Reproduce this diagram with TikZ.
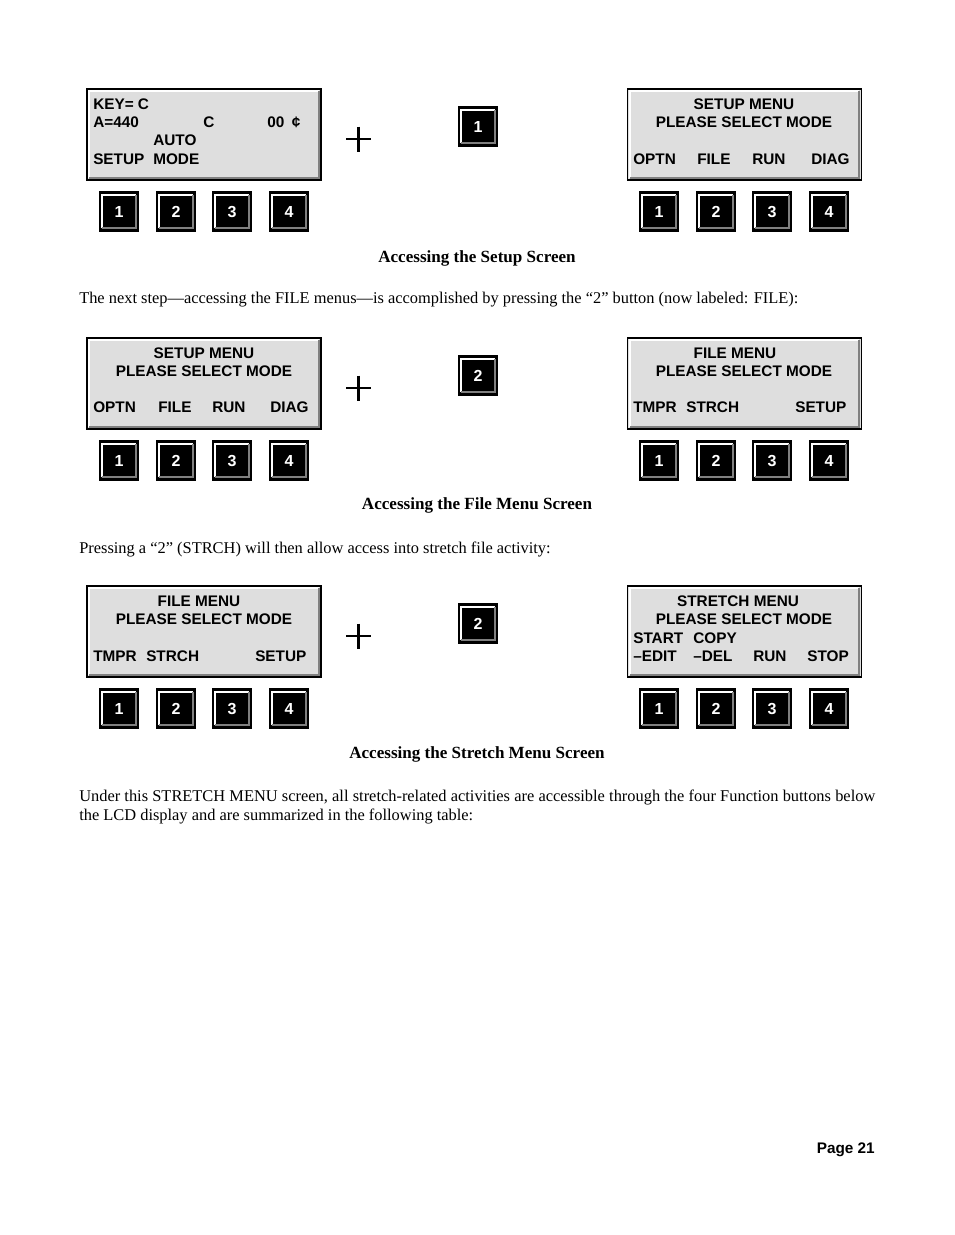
\documentclass[tikz,border=0pt]{standalone}
\usepackage{fontspec}
\setmainfont{Liberation Serif}
\newfontfamily\lcdfont{Liberation Sans}
\definecolor{lcdfill}{RGB}{222,222,222}
\definecolor{bevel}{RGB}{128,128,128}

\begin{document}
\begin{tikzpicture}[x=0.75pt, y=-0.75pt,
  lcd/.style={draw=black, line width=1.2pt, fill=lcdfill, minimum width=175.5pt,
    minimum height=68.25pt, inner sep=0pt,
    path picture={
      \draw[white, line width=1.5pt]
        ([shift={(1.8pt,1.8pt)}]path picture bounding box.south west) |-
        ([shift={(-1.8pt,-1.8pt)}]path picture bounding box.north east);
      \draw[bevel, line width=1.5pt]
        ([shift={(1.8pt,1.8pt)}]path picture bounding box.south west) -|
        ([shift={(-1.8pt,-1.8pt)}]path picture bounding box.north east);
    }},
  btn/.style={draw=black, line width=0.8pt, fill=black, text=white, minimum size=29.25pt,
    inner sep=0pt, text height=8.6pt, text depth=0pt,
    font=\lcdfont\bfseries\fontsize{12}{13}\selectfont,
    path picture={
      \draw[white, line width=1.5pt]
        ([shift={(2pt,2pt)}]path picture bounding box.south west) |-
        ([shift={(-2pt,-2pt)}]path picture bounding box.north east);
      \draw[bevel, line width=1.5pt]
        ([shift={(2pt,2pt)}]path picture bounding box.south west) -|
        ([shift={(-2pt,-2pt)}]path picture bounding box.north east);
    }},
  txt/.style={inner sep=0pt, text height=8.2pt, text depth=0pt,
    font=\lcdfont\bfseries\fontsize{11.5}{13}\selectfont},
  lt/.style={txt, anchor=west},
  caption/.style={inner sep=0pt, font=\bfseries\fontsize{12.8}{14.3}\selectfont},
  body/.style={inner sep=0pt, font=\fontsize{12.3}{14.25}\selectfont}]
  \useasboundingbox[fill=white] (0,0) rectangle (954,1235);

  % the three rows: screen, function keys, pressed key, screen
  \foreach \r/\y/\k in {1/0/1, 2/249/2, 3/497/2} {
    \node[lcd] (lcdL\r) at (204,134.5+\y) {};
    \node[lcd] (lcdR\r) at (744.5,134.5+\y) {};
    \foreach \i/\bx in {1/119, 2/176, 3/232, 4/289}
      \node[btn] (bL\r\i) at (\bx,211.5+\y) {\i};
    \foreach \i/\bx in {1/659, 2/716, 3/772, 4/829}
      \node[btn] (bR\r\i) at (\bx,211.5+\y) {\i};
    \node[btn] (key\r) at (478,126.5+\y) {\k};
    % plus sign
    \draw[line width=2pt] (346,139+\y) -- (371,139+\y);
    \draw[line width=2pt] (358.5,126.5+\y) -- (358.5,151.5+\y);
  }

  % row 1 screens
  \node[lt] (keyC) at (93,104) {KEY= C};
  \node[lt] (a440) at (93,122) {A=440};
  \node[txt] (noteC) at (209,122) {C};
  \node[lt] (cent) at (267,122) {00\hspace{0.5em}¢};
  \node[lt] (auto) at (153,140) {AUTO};
  \node[lt] (setupA) at (93,159) {SETUP};
  \node[lt] (modeA) at (153,159) {MODE};
  \node[txt] (smA) at (744,104) {SETUP MENU};
  \node[txt] (psA) at (744,122) {PLEASE SELECT MODE};
  \node[lt] (optnA) at (633,159) {OPTN};
  \node[lt] (fileA) at (697,159) {FILE};
  \node[lt] (runA) at (752,159) {RUN};
  \node[lt] (diagA) at (811,159) {DIAG};
  \node[caption] (capA) at (477,258) {Accessing the Setup Screen};

  \node[body, anchor=west] (parA) at (79,300)
    {The next step—accessing the FILE menus—is accomplished by pressing the “2” button (now labeled: FILE):};

  % row 2 screens
  \node[txt] (smB) at (204,353) {SETUP MENU};
  \node[txt] (psB) at (204,371) {PLEASE SELECT MODE};
  \node[lt] (optnB) at (93,407) {OPTN};
  \node[lt] (fileB) at (158,407) {FILE};
  \node[lt] (runB) at (212,407) {RUN};
  \node[lt] (diagB) at (270,407) {DIAG};
  \node[txt] (fmB) at (735,353) {FILE MENU};
  \node[txt] (psB2) at (744,371) {PLEASE SELECT MODE};
  \node[lt] (tmprB) at (633,407) {TMPR};
  \node[lt] (strchB) at (686,407) {STRCH};
  \node[lt] (setupB) at (795,407) {SETUP};
  \node[caption] (capB) at (477,505) {Accessing the File Menu Screen};

  \node[body, anchor=west] (parB) at (79,549)
    {Pressing a “2” (STRCH) will then allow access into stretch file activity:};

  % row 3 screens
  \node[txt] (fmC) at (199,601) {FILE MENU};
  \node[txt] (psC) at (204,619) {PLEASE SELECT MODE};
  \node[lt] (tmprC) at (93,656) {TMPR};
  \node[lt] (strchC) at (146,656) {STRCH};
  \node[lt] (setupC) at (255,656) {SETUP};
  \node[txt] (stmC) at (738,601) {STRETCH MENU};
  \node[txt] (psC2) at (744,619) {PLEASE SELECT MODE};
  \node[lt] (startC) at (633,638) {START};
  \node[lt] (copyC) at (693,638) {COPY};
  \node[lt] (editC) at (633,656) {–EDIT};
  \node[lt] (delC) at (693,656) {–DEL};
  \node[lt] (runC) at (753,656) {RUN};
  \node[lt] (stopC) at (807,656) {STOP};
  \node[caption] (capC) at (477,754) {Accessing the Stretch Menu Screen};

  \node[body, anchor=north west, text width=597pt, align=justify] (parC) at (79,790)
    {\hyphenpenalty=10000 Under this STRETCH MENU screen, all stretch-related activities are accessible through the four Function buttons below\linebreak the LCD display and are summarized in the following table:};

  \node[txt, anchor=east] (page) at (875,1148) {Page 21};
\end{tikzpicture}
\end{document}
